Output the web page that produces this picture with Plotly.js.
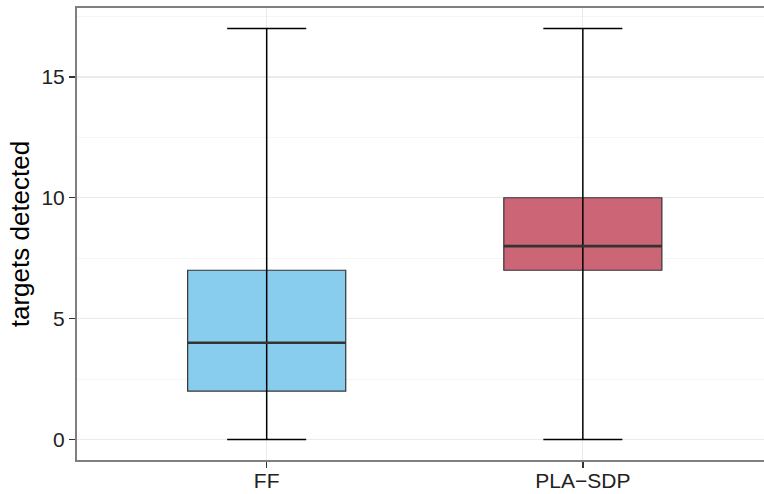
<!DOCTYPE html>
<html>
<head>
<meta charset="utf-8">
<script src="https://cdn.plot.ly/plotly-3.0.1.min.js"></script>
<style>html,body{margin:0;padding:0;background:#fff;}</style>
</head>
<body>
<div id="chart" style="width:764px;height:494px;"></div>
<script>
const categories = ['FF', 'PLA\u2212SDP'];
const mins = [0, 0];
const q1s = [2, 7];
const medians = [4, 8];
const q3s = [7, 10];
const maxs = [17, 17];
const fills = ['#88CCEE', '#CC6677'];
const yTicks = [0, 5, 10, 15];

const xs = categories.map((c, i) => i + 1);
const boxW = 0.5, capW = 0.25;
const traces = [];

categories.forEach((c, i) => {
  traces.push({
    type: 'box', x: [xs[i]], q1: [q1s[i]], median: [medians[i]], q3: [q3s[i]],
    lowerfence: [q1s[i]], upperfence: [q3s[i]], width: boxW,
    fillcolor: fills[i], line: {color: '#333333', width: 1.2},
    whiskerwidth: 0, boxpoints: false, hoverinfo: 'skip', showlegend: false
  });
});
categories.forEach((c, i) => {
  const x = xs[i];
  traces.push({
    type: 'scatter', mode: 'lines', hoverinfo: 'skip', showlegend: false,
    x: [x - capW/2, x + capW/2, null, x, x, null, x - capW/2, x + capW/2],
    y: [maxs[i], maxs[i], null, maxs[i], mins[i], null, mins[i], mins[i]],
    line: {color: '#000000', width: 1.5}
  });
  traces.push({
    type: 'scatter', mode: 'lines', hoverinfo: 'skip', showlegend: false,
    x: [x - boxW/2, x + boxW/2], y: [medians[i], medians[i]],
    line: {color: '#333333', width: 2.6}
  });
});

const layout = {
  width: 764, height: 494,
  margin: {l: 77, r: 0, t: 8, b: 34},
  paper_bgcolor: '#ffffff', plot_bgcolor: '#ffffff',
  showlegend: false,
  font: {family: 'Liberation Sans, Arial, sans-serif', color: '#222222'},
  xaxis: {
    range: [0.4, 2.573], tickvals: xs, ticktext: categories,
    showgrid: true, gridcolor: '#EBEBEB', gridwidth: 1.3,
    zeroline: false, showline: true, mirror: true, linecolor: '#7F7F7F', linewidth: 2,
    ticks: 'outside', ticklen: 6, tickwidth: 1.5, tickcolor: '#333333',
    ticklabelstandoff: -5,
    tickfont: {size: 21, color: '#222222'}
  },
  yaxis: {
    range: [-0.85, 17.85], tickvals: yTicks,
    showgrid: true, gridcolor: '#EBEBEB', gridwidth: 1.3,
    minor: {dtick: 2.5, tick0: 0, showgrid: true, gridcolor: '#F5F5F5', gridwidth: 1},
    zeroline: false, showline: true, mirror: false, linecolor: '#7F7F7F', linewidth: 2,
    ticks: 'outside', ticklen: 6, tickwidth: 1.5, tickcolor: '#333333',
    tickfont: {size: 21, color: '#222222'},
    title: {text: 'targets detected', font: {size: 26, color: '#000000'}, standoff: 4}
  }
};

Plotly.newPlot('chart', traces, layout, {displayModeBar: false, staticPlot: true});
</script>
</body>
</html>
